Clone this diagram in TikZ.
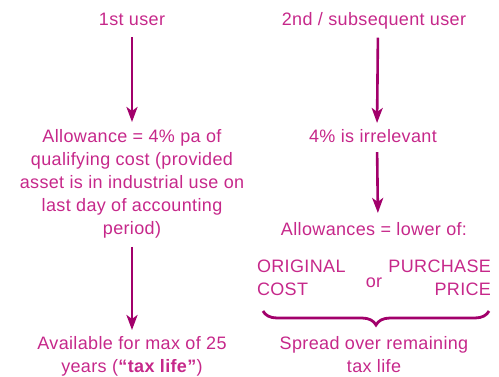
\documentclass[tikz,border=0pt]{standalone}
\usepackage{fontspec}
\setmainfont{Liberation Sans}[LetterSpace=2.0]
\usetikzlibrary{arrows.meta,decorations.pathreplacing}
\definecolor{textc}{RGB}{198,40,138}
\definecolor{arrowc}{RGB}{162,0,107}
\tikzset{
    txt/.style={text=textc, inner sep=0pt, outer sep=0pt, font=\fontsize{18}{23}\selectfont},
    arr/.style={draw=arrowc, line width=2.6pt, -{Stealth[length=15pt,width=11pt,inset=4pt]}},
}
\begin{document}
\begin{tikzpicture}[x=1pt,y=-1pt]
    \useasboundingbox (0,0) rectangle (499,376);
    \node[txt, anchor=base] (first) at (132,25) {1st user};
    \node[txt, anchor=base] (second) at (374,25) {2nd / subsequent user};
    \node[txt, align=center] (allow) at (132,183.4)
        {Allowance = 4\% pa of\\qualifying cost (provided\\asset is in industrial use on\\last day of accounting\\period)};
    \node[txt, align=center] (avail) at (132,355.9)
        {Available for max of 25\\years (\textbf{“tax life”})};
    \node[txt, anchor=base] (irrel) at (373,142) {4\% is irrelevant};
    \node[txt, anchor=base] (lower) at (374,235) {Allowances = lower of:};
    \node[txt, align=left, anchor=west] (orig) at (257,278.2) {ORIGINAL\\COST};
    \node[txt, anchor=base] (or) at (374,287) {or};
    \node[txt, align=right, anchor=east] (purch) at (491,278.2) {PURCHASE\\PRICE};
    \node[txt, align=center] (spread) at (374,355) {Spread over remaining\\tax life};
    \coordinate (braceR) at (489,311);
    \coordinate (braceL) at (263,311);

    \draw[arr, shorten <=12pt, shorten >=7pt] (first) -- (allow);
    \draw[arr, shorten <=9pt, shorten >=6pt] (allow) -- (avail);
    \draw[arr, shorten <=9pt, shorten >=6pt] ([xshift=4pt]second.south) -- ([xshift=4pt]irrel.north);
    \draw[arr, shorten <=10pt, shorten >=9pt] ([xshift=4pt]irrel.south) -- ([xshift=4pt]lower.north);
    \draw[draw=arrowc, line width=2.8pt, decorate, decoration={brace, amplitude=14pt}] (braceR) -- (braceL);
\end{tikzpicture}
\end{document}
